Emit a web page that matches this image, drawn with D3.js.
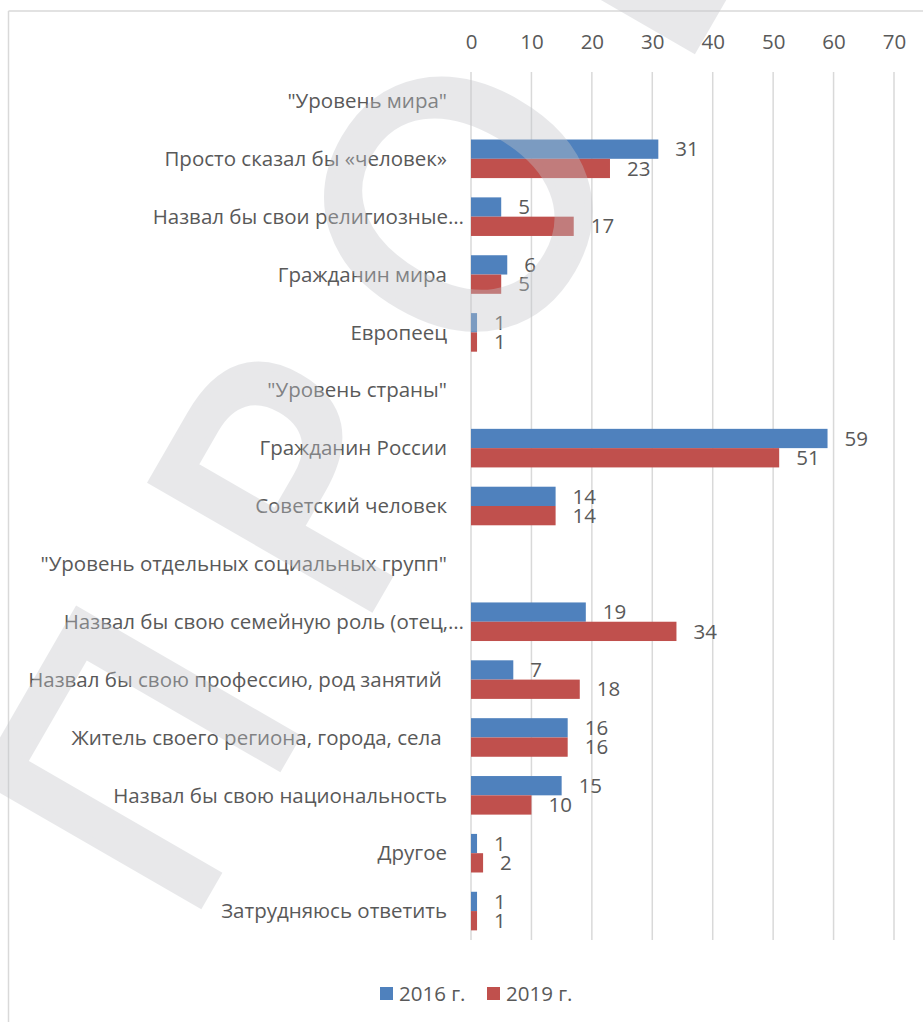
<!DOCTYPE html>
<html><head><meta charset="utf-8">
<script src="https://cdn.jsdelivr.net/npm/d3@7"></script>
<style>body{margin:0;background:#fff;} svg{display:block;}</style>
</head><body>
<svg id="c" width="923" height="1022"></svg>
<script>
const categories = ['"Уровень мира"', 'Просто сказал бы «человек»', 'Назвал бы свои религиозные…', 'Гражданин мира', 'Европеец', '"Уровень страны"', 'Гражданин России', 'Советский человек', '"Уровень отдельных социальных групп"', 'Назвал бы свою семейную роль (отец,…', 'Назвал бы свою профессию, род занятий ', 'Житель своего региона, города, села ', 'Назвал бы свою национальность', 'Другое', 'Затрудняюсь ответить'];
const values2016 = [null, 31, 5, 6, 1, null, 59, 14, null, 19, 7, 16, 15, 1, 1];
const values2019 = [null, 23, 17, 5, 1, null, 51, 14, null, 34, 18, 16, 10, 2, 1];
const seriesNames = ['2016 г.', '2019 г.'];
const tickValues = [0, 10, 20, 30, 40, 50, 60, 70];
const watermarkText = 'ПРОЕКТ';

const colors = ['#4F81BD', '#C0504D'];
const font = '"Open Sans", sans-serif';
const fs = 20.5;
const textColor = '#595959';

const svg = d3.select('#c');
const W = 923, H = 1022;
const margin = {left: 471, right: 29, top: 72, bottom: 82};

// border
svg.append('line').attr('x1', 8.5).attr('x2', 8.5).attr('y1', 11).attr('y2', H).attr('stroke', '#d9d9d9').attr('stroke-width', 1.5);
svg.append('line').attr('x1', 8.5).attr('x2', W).attr('y1', 11).attr('y2', 11).attr('stroke', '#d9d9d9').attr('stroke-width', 1.5);

const x = d3.scaleLinear().domain([0, 70]).range([margin.left, W - margin.right]);
const y = d3.scaleBand().domain(categories).range([margin.top, H - margin.bottom]).paddingInner(0).paddingOuter(0);
const inner = d3.scaleBand().domain(seriesNames).range([0, y.bandwidth()]).paddingInner(0).paddingOuter(0.5);

// gridlines
svg.append('g').selectAll('line').data(tickValues).join('line')
  .attr('x1', d => x(d)).attr('x2', d => x(d))
  .attr('y1', margin.top).attr('y2', H - margin.bottom)
  .attr('stroke', '#d9d9d9').attr('stroke-width', 1.5);

// top axis labels
const ax = svg.append('g').attr('transform', `translate(0,${margin.top - 23})`)
  .call(d3.axisTop(x).tickValues(tickValues).tickSize(0).tickPadding(0));
ax.select('.domain').remove();
ax.selectAll('text').attr('font-family', font).attr('font-size', fs).attr('fill', textColor).attr('dy', '0');

// category labels
svg.append('g').selectAll('text').data(categories).join('text')
  .attr('x', d => d.endsWith('…') ? 464 : 447)
  .attr('y', d => y(d) + y.bandwidth() / 2)
  .attr('dy', '0.35em')
  .attr('text-anchor', 'end')
  .attr('xml:space', 'preserve')
  .style('white-space', 'pre')
  .attr('font-family', font).attr('font-size', fs).attr('fill', textColor)
  .text(d => d);

// bars
const rows = [];
categories.forEach((c, i) => {
  [values2016[i], values2019[i]].forEach((v, j) => {
    if (v !== null) rows.push({cat: c, series: seriesNames[j], value: v, j});
  });
});
svg.append('g').selectAll('rect').data(rows).join('rect')
  .attr('x', x(0))
  .attr('y', d => y(d.cat) + inner(d.series))
  .attr('width', d => x(d.value) - x(0))
  .attr('height', inner.bandwidth())
  .attr('fill', d => colors[d.j]);

svg.append('g').selectAll('text').data(rows).join('text')
  .attr('x', d => x(d.value) + 17)
  .attr('y', d => y(d.cat) + inner(d.series) + inner.bandwidth() / 2)
  .attr('dy', '0.35em')
  .attr('font-family', font).attr('font-size', fs).attr('fill', textColor)
  .text(d => d.value);

// legend
const lg = svg.append('g');
const legX = [380, 487];
seriesNames.forEach((s, j) => {
  lg.append('rect').attr('x', legX[j]).attr('y', 987).attr('width', 13).attr('height', 13).attr('fill', colors[j]);
  lg.append('text').attr('x', legX[j] + 19).attr('y', 993.5).attr('dy', '0.35em')
    .attr('font-family', font).attr('font-size', fs).attr('fill', textColor).text(s);
});

// watermark
const S = 346, L = 82;
const wmFont = '"DejaVu Sans", sans-serif';
const wmColor = 'rgb(195,197,202)';
const wm = svg.append('text')
  .attr('font-family', wmFont)
  .attr('font-size', S).attr('letter-spacing', L)
  .attr('fill', wmColor).attr('stroke', wmColor).attr('stroke-width', 8).attr('stroke-linejoin', 'miter')
  .attr('opacity', 0.38)
  .text(watermarkText);
const tmp = svg.append('text').attr('font-family', wmFont).attr('font-size', S).text(watermarkText[2]);
const adv = tmp.node().getComputedTextLength();
tmp.remove();
const p = wm.node().getStartPositionOfChar(2);
const cx = p.x + adv / 2, cy = -0.365 * S;
const th = -60 * Math.PI / 180;
const rx = cx * Math.cos(th) - cy * Math.sin(th);
const ry = cx * Math.sin(th) + cy * Math.cos(th);
wm.attr('transform', `translate(${458 - rx},${204 - ry}) rotate(-60)`);
</script>
</body></html>
